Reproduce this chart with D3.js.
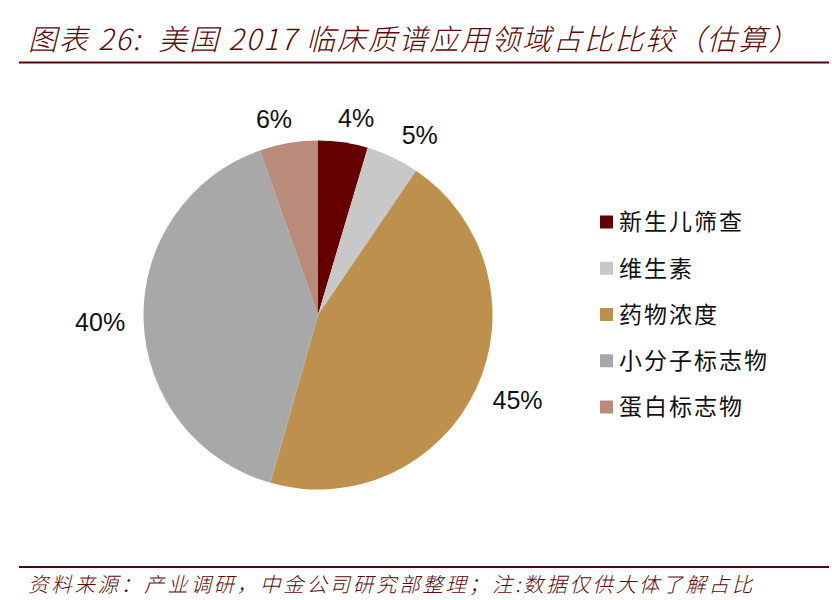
<!DOCTYPE html>
<html>
<head>
<meta charset="utf-8">
<script src="https://cdn.jsdelivr.net/npm/d3@7"></script>
<style>
  html, body { margin: 0; padding: 0; background: #fff; }
  .cjk { font-family: "Noto Sans CJK SC", sans-serif; }
  .note { font-family: "Noto Sans CJK SC", sans-serif; font-style: italic; fill: #5a0a0a; font-weight: 300; white-space: pre; }
  .pct { font-family: "Liberation Sans", Arial, sans-serif; font-size: 25px; fill: #111; }
</style>
</head>
<body>
<svg id="chart" width="832" height="600"></svg>
<script>
// values, the printed labels are rounded differently
const categories = ['新生儿筛查', '维生素', '药物浓度', '小分子标志物', '蛋白标志物'];
const shares = [4.6, 4.9, 44.9, 40.2, 5.4];
const shareLabels = ['4%', '5%', '45%', '40%', '6%'];
const colors = ['#640000', '#c8c8c8', '#bd914d', '#a8a8a8', '#b98b7b'];

const titleText = '图表 26:  美国 2017 临床质谱应用领域占比比较（估算）';
const sourceText = '资料来源：产业调研，中金公司研究部整理；注:数据仅供大体了解占比';

const width = 832, height = 600;
const cx = 318, cy = 315, radius = 174.5;
// labels sit on a rounded ellipse, wider than tall, like the excel original
const labelRx = 218, labelRy = 200;

const svg = d3.select('#chart');

// header and footer
svg.append('text')
    .attr('class', 'note')
    .attr('x', 28).attr('y', 50)
    .attr('font-size', 29)
    .attr('letter-spacing', 1.85)
    .text(titleText);

svg.selectAll('line.rule')
  .data([62.5, 567])
  .join('line')
    .attr('class', 'rule')
    .attr('x1', 19).attr('x2', 829)
    .attr('y1', d => d).attr('y2', d => d)
    .attr('stroke', '#4d0a0a')
    .attr('stroke-width', 2);

svg.append('text')
    .attr('class', 'note')
    .attr('x', 28).attr('y', 592)
    .attr('font-size', 20.5)
    .attr('letter-spacing', 2.7)
    .text(sourceText);

// pie
const pie = d3.pie().sort(null).value(d => d);
const arcs = pie(shares);
const arc = d3.arc().innerRadius(0).outerRadius(radius);

const g = svg.append('g').attr('transform', `translate(${cx},${cy})`);

g.selectAll('path')
  .data(arcs)
  .join('path')
    .attr('d', arc)
    .attr('fill', (d, i) => colors[i]);

g.selectAll('text')
  .data(arcs)
  .join('text')
    .attr('class', 'pct')
    .attr('text-anchor', 'middle')
    .attr('dy', '0.35em')
    .attr('transform', d => {
      const mid = (d.startAngle + d.endAngle) / 2;
      const s = Math.sin(mid);
      const lx = labelRx * Math.sign(s) * Math.pow(Math.abs(s), 0.9);
      const ly = -labelRy * Math.cos(mid) + 1;
      return `translate(${lx},${ly})`;
    })
    .text((d, i) => shareLabels[i]);

// legend
const legendY = d3.scalePoint().domain(categories).range([222, 407]);

const legend = svg.append('g');
legend.selectAll('rect')
  .data(categories)
  .join('rect')
    .attr('x', 600)
    .attr('y', d => legendY(d) - 6.5)
    .attr('width', 13).attr('height', 13)
    .attr('fill', (d, i) => colors[i]);

legend.selectAll('text')
  .data(categories)
  .join('text')
    .attr('class', 'cjk')
    .attr('x', 619)
    .attr('y', d => legendY(d))
    .attr('dy', '0.36em')
    .attr('font-size', 23)
    .attr('letter-spacing', 2)
    .attr('fill', '#111')
    .text(d => d);
</script>
</body>
</html>
